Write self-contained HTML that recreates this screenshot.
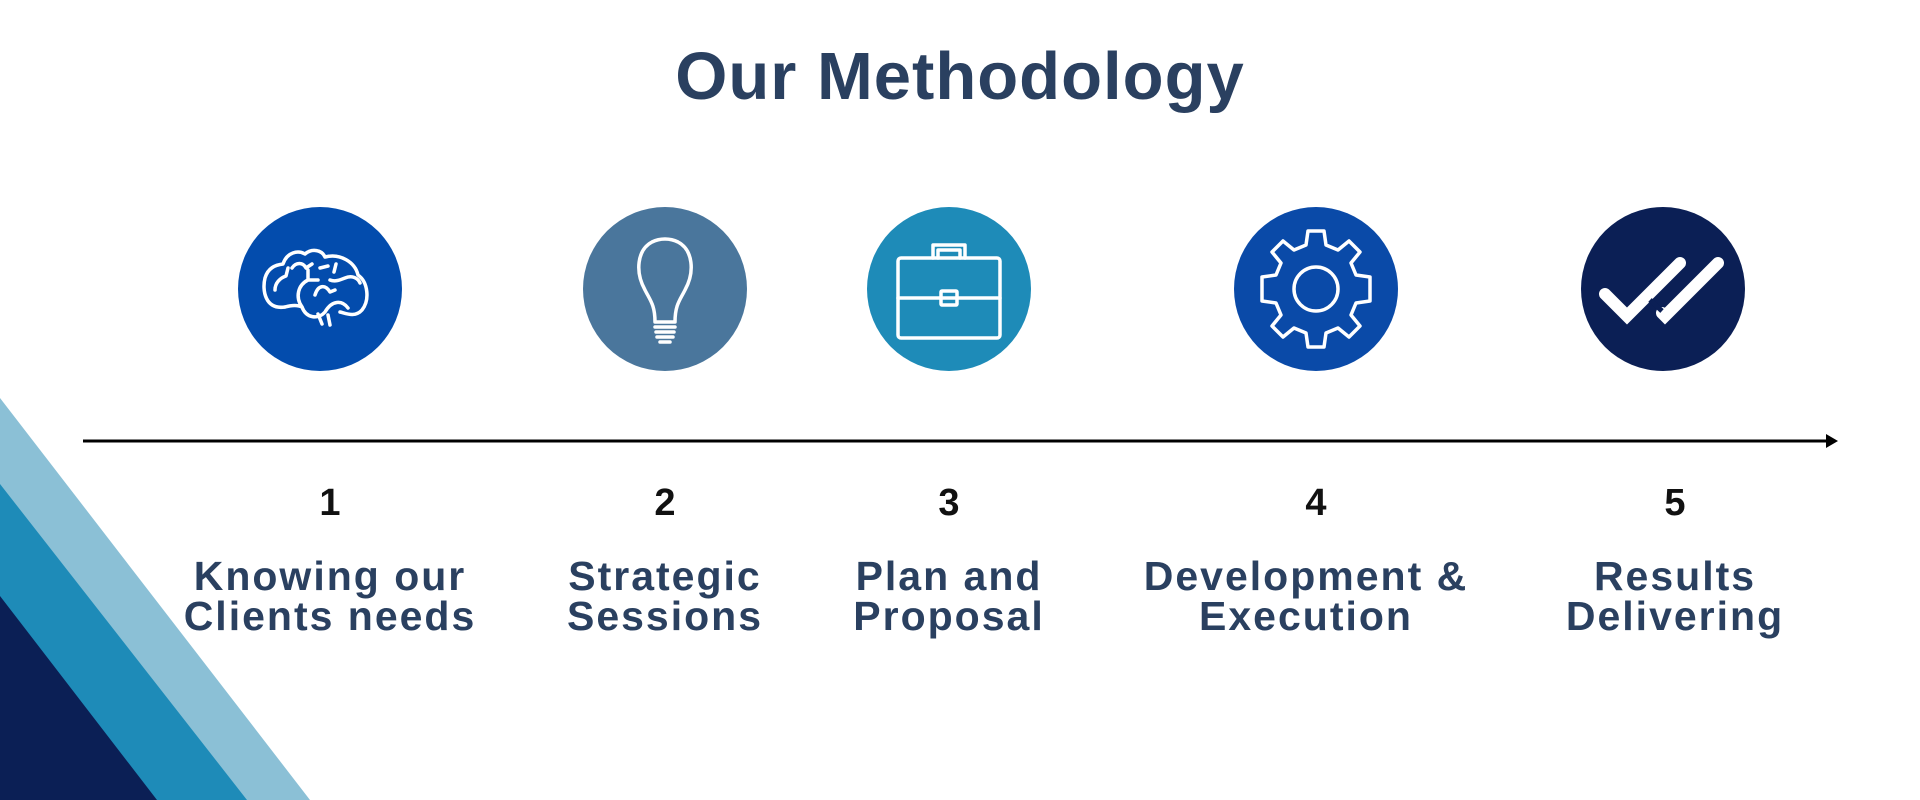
<!DOCTYPE html>
<html><head><meta charset="utf-8"><style>
html,body{margin:0;padding:0;background:#fff;width:1920px;height:800px;overflow:hidden;position:relative;font-family:"Liberation Sans","DejaVu Sans",sans-serif}
.t{position:absolute;color:#2a4060;font-weight:bold;text-align:center;white-space:nowrap}
.n{position:absolute;color:#111;font-weight:bold;font-size:38px;text-align:center;width:100px}
</style></head><body>
<svg width="1920" height="800" style="position:absolute;left:0;top:0">
<polygon points="0,398 310,800 0,800" fill="#8bc0d6"/>
<polygon points="0,484 247,800 0,800" fill="#1e8bb8"/>
<polygon points="0,596 157,800 0,800" fill="#0b1f55"/>
<line x1="83" y1="441" x2="1830" y2="441" stroke="#000" stroke-width="3"/>
<polygon points="1838,441 1826,434 1826,448" fill="#000"/>
<circle cx="320" cy="289" r="82" fill="#034cad"/>
<circle cx="665" cy="289" r="82" fill="#4a769c"/>
<circle cx="949" cy="289" r="82" fill="#1e8bb8"/>
<circle cx="1316" cy="289" r="82" fill="#0a4aa8"/>
<circle cx="1663" cy="289" r="82" fill="#0b1f55"/>
<g fill="none" stroke="#fff" stroke-width="3.5" stroke-linecap="round" stroke-linejoin="round">
<path d="M285,307 C265,310 262,290 265,278 C268,268 275,265 283,264 C287,252 298,250 305,254 C312,248 322,250 325,257 C340,253 355,262 358,275 C368,282 370,300 362,310 C355,318 345,313 340,312"/>
<path d="M285,307 C292,305 298,305 302,307 C306,318 318,320 325,312 C332,300 342,300 348,308"/>
<path d="M302,307 C295,297 298,285 308,280 L318,280 M308,280 L308,270 M315,295 C318,285 325,284 330,292 L335,290"/>
<path d="M275,290 C275,283 280,278 286,276 L288,268 M292,268 C296,262 303,262 306,268 L312,264 M320,268 L328,266 M330,280 C335,282 340,280 345,278 C352,275 358,278 360,283 M334,272 L336,264"/>
<path d="M318,314 L322,324 M328,315 L330,325"/>
<path d="M655,322 C655,305 650,300 645,290 C635,272 637,250 652,242 C660,238 670,238 678,242 C693,250 695,272 685,290 C680,300 675,305 675,322 Z"/>
<path d="M655,327 L675,327 M656,332 L674,332 M657,337 L673,337 M660,342 L670,342"/>
<rect x="898" y="258" width="102" height="80" rx="3"/>
<path d="M898,298 L1000,298 M933,258 L933,245 L965,245 L965,258 M938,258 L938,250 L960,250 L960,258"/>
<rect x="941" y="291" width="16" height="14" rx="1"/>
<circle cx="1316" cy="289" r="22"/>
<path d="M1308,231 L1324,231 L1326,245 L1338,250 L1349,241 L1360,252 L1351,263 L1356,275 L1370,277 L1370,301 L1356,303 L1351,315 L1360,326 L1349,337 L1338,328 L1326,333 L1324,347 L1308,347 L1306,333 L1294,328 L1283,337 L1272,326 L1281,315 L1276,303 L1262,301 L1262,277 L1276,275 L1281,263 L1272,252 L1283,241 L1294,250 L1306,245 Z"/>
</g>
<g fill="none" stroke="#fff" stroke-width="12" stroke-linecap="round">
<path d="M1605,294 L1627,316 L1680,263"/>
<path d="M1662,313 L1665,316 L1718,263"/>
</g>
<path d="M1650,300 L1662,311" stroke="#0b1f55" stroke-width="5"/>
</svg>
<div class="t" style="left:560px;width:800px;top:38px;font-size:67px;letter-spacing:1px">Our Methodology</div>
<div class="n" style="left:280px;top:482px">1</div>
<div class="n" style="left:615px;top:482px">2</div>
<div class="n" style="left:899px;top:482px">3</div>
<div class="n" style="left:1266px;top:482px">4</div>
<div class="n" style="left:1625px;top:482px">5</div>
<div class="t" style="left:130px;width:400px;top:556px;font-size:41px;line-height:40px;letter-spacing:2px">Knowing our<br>Clients needs</div>
<div class="t" style="left:465px;width:400px;top:556px;font-size:41px;line-height:40px;letter-spacing:2px">Strategic<br>Sessions</div>
<div class="t" style="left:749px;width:400px;top:556px;font-size:41px;line-height:40px;letter-spacing:2px">Plan and<br>Proposal</div>
<div class="t" style="left:1106px;width:400px;top:556px;font-size:41px;line-height:40px;letter-spacing:2px">Development &amp;<br>Execution</div>
<div class="t" style="left:1475px;width:400px;top:556px;font-size:41px;line-height:40px;letter-spacing:2px">Results<br>Delivering</div>
</body></html>
